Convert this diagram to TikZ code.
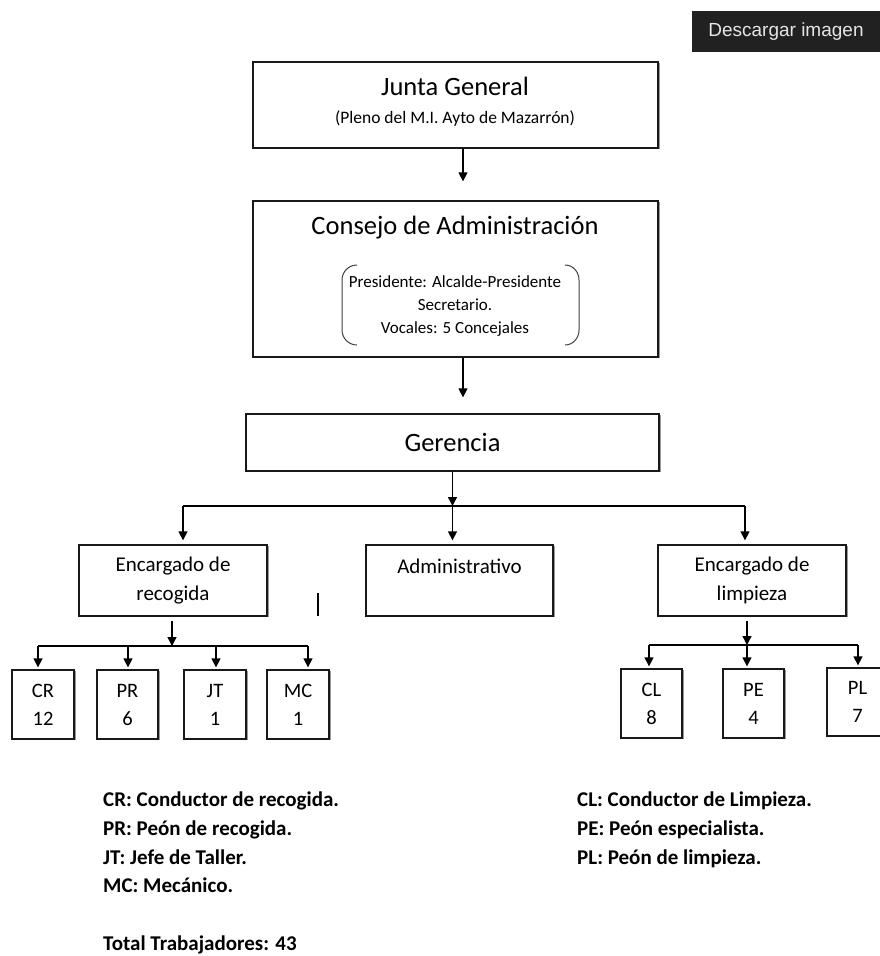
\documentclass[tikz,border=0pt]{standalone}
\usepackage{fontspec}
\setmainfont{Carlito}
\newfontfamily\arialfont{Liberation Sans}
\usetikzlibrary{arrows.meta, shadows}

\begin{document}
\begin{tikzpicture}[x=1pt, y=-1pt,
    font=\fontsize{21}{28.5}\selectfont,
    unitbox/.style={draw=black!90, line width=1.3pt, fill=white, inner sep=0pt, align=center, general shadow={fill=black!40, shadow xshift=1.6pt, shadow yshift=-1.4pt}},
    staffbox/.style={unitbox, minimum width=61pt, minimum height=69pt, font=\fontsize{20.5}{28}\selectfont},
    arrow/.style={-{Triangle[width=9pt, length=9pt]}, line width=1.3pt},
    busline/.style={line width=1.3pt},
    legendtext/.style={anchor=base west, inner sep=0pt, font=\fontsize{21}{25}\selectfont\bfseries}
]
\useasboundingbox (0,0) rectangle (880,956);
\clip (0,0) rectangle (880,956);

% === DOWNLOAD BUTTON ===
\node[fill=black!87, minimum width=188pt, minimum height=41pt, inner sep=0pt, text=black!10, font=\arialfont\fontsize{19}{22}\selectfont] (download) at (786,31.5) {Descargar imagen};

% === JUNTA / CONSEJO ===
\node[unitbox, minimum width=405pt, minimum height=86pt] (junta) at (455.5,105) {};
\node[anchor=base, font=\fontsize{26.5}{30}\selectfont] (juntatitle) at (455,95) {Junta General};
\node[anchor=base, font=\fontsize{17.5}{20}\selectfont] (juntasub) at (455,123) {(Pleno del M.I. Ayto de Mazarrón)};

\node[unitbox, minimum width=405pt, minimum height=156pt] (consejo) at (455.5,279) {};
\node[anchor=base, font=\fontsize{26.5}{30}\selectfont] (consejotitle) at (455,234) {Consejo de Administración};
\foreach \y/\txt [count=\i] in {287/{Presidente: Alcalde-Presidente}, 310/{Secretario.}, 333/{Vocales: 5 Concejales}}
    \node[anchor=base, font=\fontsize{17}{23}\selectfont] (member\i) at (455,\y) {\txt};

% brackets round the members
\draw[black!75, line width=1pt] (357,265) to[out=180, in=90] (342,280) -- (342,330) to[out=-90, in=180] (357,345);
\draw[black!75, line width=1pt] (565,265) to[out=0, in=90] (579,280) -- (579,330) to[out=-90, in=0] (565,345);

% === GERENCIA AND MANAGERS ===
\node[unitbox, minimum width=413pt, minimum height=57pt, font=\fontsize{26.5}{30}\selectfont] (gerencia) at (452.5,442.5) {Gerencia};

\node[unitbox, minimum width=188pt, minimum height=71pt] (recogida) at (173,580.5) {Encargado de\\recogida};
\node[unitbox, minimum width=187pt, minimum height=71pt] (admin) at (459.5,580.5) {Administrativo\\\mbox{}};
\node[unitbox, minimum width=188pt, minimum height=71pt] (limpieza) at (752,580.5) {Encargado de\\limpieza};

% === STAFF ===
\node[staffbox, minimum width=62pt] (cr) at (43,704.5) {CR\\12};
\node[staffbox] (pr) at (127.5,704.5) {PR\\6};
\node[staffbox, minimum width=62pt] (jt) at (215,704.5) {JT\\1};
\node[staffbox, minimum width=62pt] (mc) at (298,704.5) {MC\\1};

\node[staffbox] (cl) at (651.5,703.5) {CL\\8};
\node[staffbox] (pe) at (753.5,703.5) {PE\\4};
\node[staffbox, minimum height=68pt] (pl) at (857.5,702) {PL\\7};

% === ARROWS ===
\draw[arrow, shorten >=19pt] ([xshift=7.5pt]junta.south) -- ([xshift=7.5pt]consejo.north);
\draw[arrow, shorten >=16pt] ([xshift=7.5pt]consejo.south) -- ([xshift=7.5pt]consejo.south |- gerencia.north);

\coordinate (gbus) at (452.5,506);
\coordinate (gleft) at (183,506);
\coordinate (gright) at (745,506);
\draw[arrow] (gerencia.south) -- (gbus);
\draw[busline] (gleft) -- (gright);
\draw[arrow, shorten >=4pt] (gleft) -- (gleft |- recogida.north);
\draw[arrow, shorten >=4pt] (gbus) -- (gbus |- admin.north);
\draw[arrow, shorten >=4pt] (gright) -- (gright |- limpieza.north);

\coordinate (rbus) at (172,646);
\coordinate (rleft) at (38,646);
\coordinate (rright) at (308,646);
\draw[arrow, shorten <=4pt] (rbus |- recogida.south) -- (rbus);
\draw[busline] (rleft) -- (rright);
\foreach \n/\x in {cr/38, pr/128, jt/216, mc/308}
    \draw[arrow, shorten >=2pt] (\x,646) -- (\x,646 |- \n.north);

\coordinate (lbus) at (747,645);
\coordinate (lleft) at (649,645);
\coordinate (lright) at (858,645);
\draw[arrow, shorten <=4pt] (lbus |- limpieza.south) -- (lbus);
\draw[busline] (lleft) -- (lright);
\foreach \n/\x in {cl/649, pe/747, pl/858}
    \draw[arrow, shorten >=2pt] (\x,645) -- (\x,645 |- \n.north);

% stray mark
\draw[line width=2.6pt] (318,593) -- (318,616);

% === LEGEND ===
\foreach \y/\txt [count=\i] in {806/{CR: Conductor de recogida.}, 835/{PR: Peón de recogida.}, 864/{JT: Jefe de Taller.}, 892/{MC: Mecánico.}}
    \node[legendtext] (legleft\i) at (103,\y) {\txt};
\foreach \y/\txt [count=\i] in {806/{CL: Conductor de Limpieza.}, 835/{PE: Peón especialista.}, 864/{PL: Peón de limpieza.}}
    \node[legendtext] (legright\i) at (577,\y) {\txt};
\node[legendtext] (total) at (103,950) {Total Trabajadores: 43};

\end{tikzpicture}
\end{document}
